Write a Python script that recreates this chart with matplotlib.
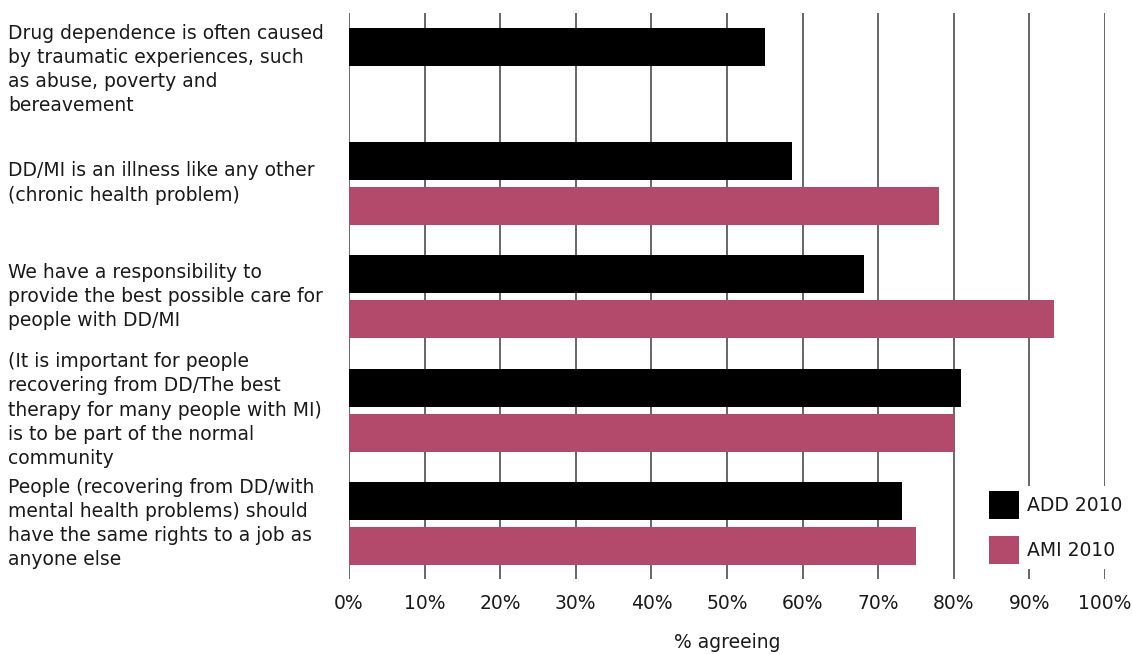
import matplotlib
matplotlib.use("Agg")
import matplotlib.pyplot as plt
import numpy as np

categories = [
    "Drug dependence is often caused\nby traumatic experiences, such\nas abuse, poverty and\nbereavement",
    "DD/MI is an illness like any other\n(chronic health problem)",
    "We have a responsibility to\nprovide the best possible care for\npeople with DD/MI",
    "(It is important for people\nrecovering from DD/The best\ntherapy for many people with MI)\nis to be part of the normal\ncommunity",
    "People (recovering from DD/with\nmental health problems) should\nhave the same rights to a job as\nanyone else",
]
add_2010 = [55.0, 58.6, 68.1, 81.0, 73.1]
ami_2010 = [np.nan, 78.0, 93.3, 80.0, 75.0]
series_names = ["ADD 2010", "AMI 2010"]
xticks = [0, 10, 20, 30, 40, 50, 60, 70, 80, 90, 100]
xtick_labels = [f"{t}%" for t in xticks]

W, H = 1132, 654
fig = plt.figure(figsize=(W / 100, H / 100), dpi=100)
ax = fig.add_axes([349 / W, 1 - 579 / H, (1105 - 349) / W, (579 - 13) / H])

text_color = "#1a1a1a"
grid_color = "#5a5a5a"
black = "#000000"
pink = "#b34a6c"
fs = 13.5

y = np.arange(len(categories))
off = 22.5 / 113.5
h = 38 / 113.5
ax.barh(y - off, add_2010, height=h, color=black, zorder=3, label=series_names[0])
ax.barh(y + off, ami_2010, height=h, color=pink, zorder=3, label=series_names[1])

ax.set_xlim(0, 100)
ax.set_ylim((579 - 69.5) / 113.5, (13 - 69.5) / 113.5)
ax.set_xticks(xticks)
ax.set_xticklabels(xtick_labels, fontsize=fs, color=text_color)
ax.tick_params(axis="x", length=0, pad=11)
ax.set_yticks([])
for s in ax.spines.values():
    s.set_visible(False)
for t in xticks:
    ax.axvline(t, color=grid_color, lw=1.3, zorder=1)

for i, lab in enumerate(categories):
    fig.text(8 / W, 1 - (69.5 + 113.5 * i) / H, lab, ha="left", va="center",
             fontsize=fs, color=text_color, linespacing=1.34)

fig.text(727 / W, 1 - 652 / H, "% agreeing", ha="center", va="bottom",
         fontsize=fs, color=text_color)

leg = fig.legend(loc="upper left", bbox_to_anchor=(984 / W, 1 - 486 / H),
                 borderaxespad=0, frameon=True, fancybox=False,
                 facecolor="white", edgecolor="none", framealpha=1,
                 fontsize=fs, handlelength=1.6, handleheight=1.92,
                 handletextpad=0.45, labelspacing=0.9, borderpad=0.26)
for t in leg.get_texts():
    t.set_color(text_color)
leg.set_zorder(10)

fig.savefig("out.png", dpi=100)
